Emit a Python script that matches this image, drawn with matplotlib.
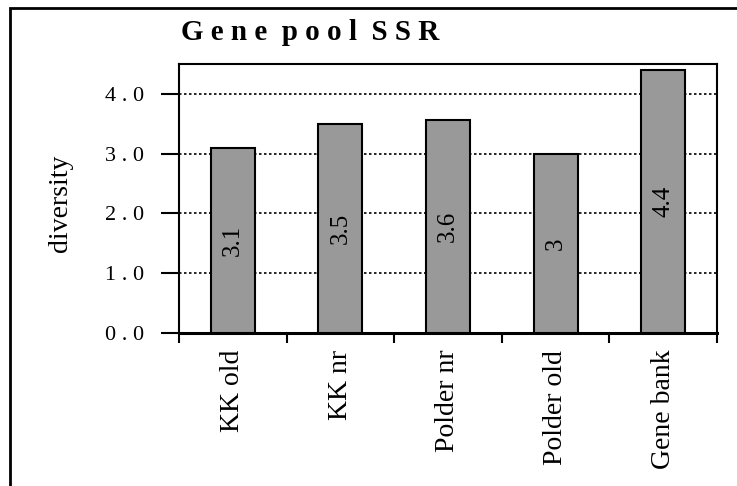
import matplotlib
matplotlib.use("Agg")
import matplotlib.pyplot as plt
from matplotlib.patches import Rectangle
from matplotlib.ticker import FixedLocator, FuncFormatter

categories = ["KK old", "KK nr", "Polder nr", "Polder old", "Gene bank"]
values = [3.1, 3.5, 3.56, 3.0, 4.4]
yticks = [0.0, 1.0, 2.0, 3.0, 4.0]
title = "G e n e  p o o l  S S R"
ylabel = "diversity"

plt.rcParams['font.family'] = ['Liberation Serif', 'DejaVu Serif']

W, H = 737, 486
fig = plt.figure(figsize=(W / 100, H / 100), dpi=100)
ax = fig.add_axes([179 / W, 1 - 333 / H, (717 - 179) / W, (333 - 64) / H])

x = list(range(len(categories)))
ax.bar(x, values, width=0.41, color="#999999", edgecolor="black",
       linewidth=1.5, zorder=3)

for xi, v in zip(x, values):
    ax.text(xi, v / 2, "{:g}".format(round(v, 1)), rotation=90,
            ha="center", va="center", fontsize=18, zorder=4)

ax.set_xlim(-0.5, len(categories) - 0.5)
ax.set_ylim(0, 4.5)

ax.set_yticks(yticks)
ax.yaxis.set_major_formatter(FuncFormatter(lambda v, p: " ".join("{:.1f}".format(v))))
ax.tick_params(axis="y", direction="out", length=13, width=1.5, pad=12, labelsize=16)

ax.set_xticks(x)
ax.set_xticklabels(categories, rotation=90, va="top", ha="center")
ax.tick_params(axis="x", which="major", length=0, pad=12, labelsize=20)
ax.xaxis.set_minor_locator(FixedLocator([i - 0.5 for i in range(len(categories) + 1)]))
ax.tick_params(axis="x", which="minor", direction="out", length=7, width=1.5)

ax.yaxis.grid(True, color="black", linestyle=(0, (1.5, 1.5)), linewidth=1.2, zorder=0)
ax.set_axisbelow(True)

for s in ["left", "top", "right"]:
    ax.spines[s].set_linewidth(1.5)
ax.spines["bottom"].set_linewidth(2.2)

ax.set_ylabel(ylabel, fontsize=20)
ax.yaxis.set_label_coords(-0.197, 0.483)

fig.text(310 / W, 1 - 32 / H, title, ha="center", va="center",
         fontsize=21, fontweight="bold")

fig.add_artist(Rectangle((10 / W, -0.1), 1.2, (1 - 8 / H) + 0.1,
                         transform=fig.transFigure, fill=False,
                         edgecolor="black", linewidth=2))

fig.savefig("out.png", dpi=100)
